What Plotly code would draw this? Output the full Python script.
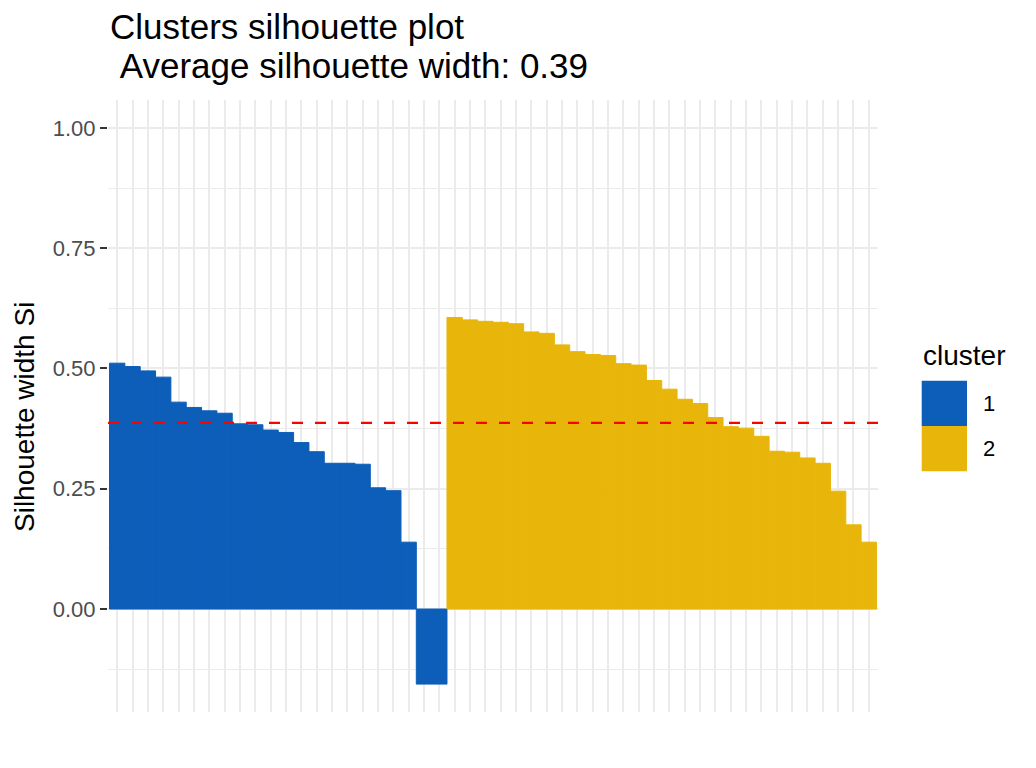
import plotly.graph_objects as go

# ---- data ----
clusters = ["1", "2"]
cluster_colors = ["#0C5EB9", "#E8B60B"]

sil_cluster1 = [0.511, 0.504, 0.495, 0.482, 0.430, 0.419, 0.412, 0.407, 0.385, 0.383,
                0.372, 0.367, 0.346, 0.327, 0.303, 0.303, 0.301, 0.252, 0.246, 0.139,
                -0.156, -0.156]
sil_cluster2 = [0.606, 0.601, 0.598, 0.596, 0.593, 0.576, 0.573, 0.549, 0.535, 0.529,
                0.527, 0.510, 0.507, 0.475, 0.457, 0.436, 0.427, 0.398, 0.379, 0.376,
                0.359, 0.328, 0.326, 0.314, 0.303, 0.245, 0.175, 0.139]
avg_sil_width = 0.387

y_tick_vals = [0.0, 0.25, 0.50, 0.75, 1.00]
y_tick_text = ["0.00", "0.25", "0.50", "0.75", "1.00"]
y_minor_vals = [-0.125, 0.125, 0.375, 0.625, 0.875]

title_lines = ["Clusters silhouette plot", "\u00a0Average silhouette width: 0.39"]
y_title = "Silhouette width Si"
legend_title = "cluster"

# ---- layout constants (page offset of 8px from the body margin) ----
OFF = 8
W, H = 1028, 760
ML, MR, MT, MB = 100, 158, 92, 56
PW, PH = W - ML - MR, H - MT - MB
FONT = "Liberation Sans, Arial, Helvetica, sans-serif"
GRID = "#EBEBEB"


def px_x(page_px):
    return (page_px - OFF - ML) / PW


def px_y(page_py):
    return (H - MB - (page_py - OFF)) / PH


series = [sil_cluster1, sil_cluster2]
fig = go.Figure()
start = 1
all_x = []
for vals, name, col in zip(series, clusters, cluster_colors):
    xs = list(range(start, start + len(vals)))
    all_x += xs
    start += len(vals)
    fig.add_trace(go.Bar(x=xs, y=vals, width=1, name=name, showlegend=False,
                         marker=dict(color=col, line=dict(width=1, color=col))))

n_total = len(all_x)

fig.add_shape(type="line", xref="paper", x0=0, x1=1, yref="y",
              y0=avg_sil_width, y1=avg_sil_width,
              line=dict(color="#FF0000", width=2.4, dash="11px,12px"))

# title (two lines, ggplot-like tight line spacing)
for line_text, cy in zip(title_lines, [27, 66]):
    fig.add_annotation(text=line_text, xref="paper", yref="paper",
                       x=px_x(108), y=px_y(cy), xanchor="left", yanchor="middle",
                       showarrow=False, font=dict(family=FONT, size=35, color="black"))

# manual ggplot-style legend
key_left, key_size, key_top = 921.7, 45.3, 380.7
fig.add_annotation(text=legend_title, xref="paper", yref="paper",
                   x=px_x(key_left - 1), y=px_y(355), xanchor="left", yanchor="middle",
                   showarrow=False, font=dict(family=FONT, size=28, color="black"))
for i, (name, col) in enumerate(zip(clusters, cluster_colors)):
    t = key_top + i * key_size
    fig.add_shape(type="rect", xref="paper", yref="paper",
                  x0=px_x(key_left), x1=px_x(key_left + key_size),
                  y0=px_y(t), y1=px_y(t + key_size),
                  fillcolor=col, line=dict(width=0), layer="above")
    fig.add_annotation(text=name, xref="paper", yref="paper",
                       x=px_x(key_left + key_size + 14), y=px_y(t + key_size / 2),
                       xanchor="left", yanchor="middle", showarrow=False,
                       font=dict(family=FONT, size=22, color="black"))

fig.add_annotation(text=y_title, xref="paper", yref="paper", textangle=-90,
                   x=px_x(25), y=px_y(417), xanchor="center", yanchor="middle",
                   showarrow=False, font=dict(family=FONT, size=28, color="black"))

fig.update_layout(
    width=W, height=H,
    margin=dict(l=ML, r=MR, t=MT, b=MB, autoexpand=False),
    paper_bgcolor="white", plot_bgcolor="white",
    barmode="overlay",
    showlegend=False,
    font=dict(family=FONT),
    xaxis=dict(range=[0.4, n_total + 0.6], tickvals=all_x, showticklabels=False,
               ticks="", showgrid=True, gridcolor=GRID, gridwidth=2,
               zeroline=False, showline=False, fixedrange=True),
    yaxis=dict(range=[-0.214, 1.058], tickvals=y_tick_vals, ticktext=y_tick_text,
               ticks="outside", ticklen=7, tickwidth=2, tickcolor="#333333",
               tickfont=dict(family=FONT, size=22, color="#4D4D4D"),
               showgrid=True, gridcolor=GRID, gridwidth=2,
               minor=dict(tickvals=y_minor_vals, showgrid=True, gridcolor=GRID,
                          gridwidth=1, ticks=""),
               zeroline=False, showline=False, fixedrange=True),
)

fig.write_html("out.html")
